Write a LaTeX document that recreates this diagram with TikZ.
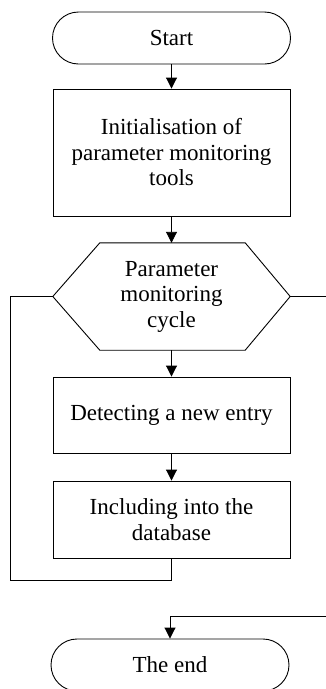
\documentclass[tikz,border=0pt]{standalone}
\usepackage{fontspec}
\setmainfont{Liberation Serif}
\usetikzlibrary{arrows.meta,calc}
\begin{document}
\begin{tikzpicture}[x=1pt,y=-1pt,
  every node/.style={font=\fontsize{23}{25.5}\selectfont, align=center, inner sep=0pt},
  term/.style={draw, line width=0.9pt, rectangle, rounded corners=26pt, minimum width=238pt, minimum height=52pt},
  proc/.style={draw, line width=0.9pt, rectangle, minimum width=237pt},
  conn/.style={line width=0.9pt},
  arr/.style={conn, -{Triangle[length=11pt,width=11pt]}}]
\useasboundingbox (0,0) rectangle (326,689);
\clip (0,0) rectangle (326,689);
\node[term] (start) at (171.5,38) {Start};
\node[proc, minimum height=127pt] (init) at (171.5,152.5) {Initialisation of\\parameter monitoring\\tools};
\node[minimum width=237pt, minimum height=107pt] (hex) at (171.5,296.5) {Parameter\\monitoring\\cycle};
\draw[conn] (hex.west) -- ($(hex.north west)+(47,0)$) -- ($(hex.north east)+(-45,0)$) -- (hex.east)
  -- ($(hex.south east)+(-45,0)$) -- ($(hex.south west)+(47,0)$) -- cycle;
\node[proc, minimum height=76pt] (detect) at (171.5,415) {Detecting a new entry};
\node[proc, minimum height=77pt] (incl) at (171.5,519.5) {Including into the\\database};
\node[term] (theend) at (170,665) {The end};
\coordinate (lp) at (10,580);
\coordinate (r1) at (326,296.5);
\coordinate (r2) at (326,616);
\draw[arr] (start) -- (init);
\draw[arr] (init) -- (hex);
\draw[arr] (hex) -- (detect);
\draw[arr] (detect) -- (incl);
\draw[conn] (incl.south) |- (lp) |- (hex.west);
\draw[conn] (hex.east) -- (r1);
\draw[arr] (r2) -| (theend.north);
\end{tikzpicture}
\end{document}
